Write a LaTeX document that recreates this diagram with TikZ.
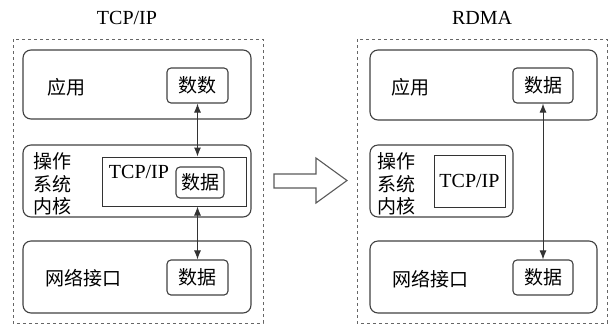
\documentclass[tikz,border=0pt]{standalone}
\usepackage{fontspec}
\setmainfont{Liberation Serif}
\newfontfamily\cjk{Noto Sans CJK SC}
\usepackage{tikz}
\usetikzlibrary{arrows.meta}

\tikzset{
    layer/.style={draw=black!75, line width=1.1pt, rounded corners=8pt, minimum width=228pt},
    databox/.style={draw=black!75, line width=1.1pt, rounded corners=4pt, minimum width=61pt, minimum height=35pt, inner sep=0pt, font=\fontsize{19}{22.5}\selectfont\cjk},
    stack/.style={draw=black!80, line width=1pt, inner sep=0pt},
    lbl/.style={font=\fontsize{19}{22.5}\selectfont\cjk, inner sep=0pt},
    frame/.style={draw=black!60, dashed, line width=0.7pt},
    link/.style={{Latex[length=9pt,width=7pt]}-{Latex[length=9pt,width=7pt]}, line width=1pt, black!80},
}

\begin{document}
\begin{tikzpicture}[x=1pt, y=-1pt, font=\fontsize{20}{23}\selectfont]
    \useasboundingbox (0,0) rectangle (609,325);

    % dashed frames and titles
    \draw[frame] (13,39) rectangle (263,323);
    \draw[frame] (357,39) rectangle (607,323);
    \node (titleL) at (127,18) {TCP/IP};
    \node (titleR) at (482,18) {RDMA};

    % TCP/IP side
    \node[layer, minimum height=69pt] (appL) at (137,84.5) {};
    \node[lbl] (appLtxt) at (66,87) {应用};
    \node[databox] (dataA) at (197.5,85.5) {数数};

    \node[layer, minimum height=72pt] (osL) at (137,181) {};
    \node[lbl, align=left] (osLtxt) at (52,184) {操作\\系统\\内核};
    \node[stack, minimum width=144pt, minimum height=49pt] (tcpL) at (174,181.5) {};
    \node[inner sep=0pt] (tcpLtxt) at (139,172) {TCP/IP};
    \node[databox, minimum width=48pt, minimum height=31pt] (dataB) at (200,182.5) {数据};

    \node[layer, minimum height=72pt] (netL) at (137,277) {};
    \node[lbl] (netLtxt) at (83,278) {网络接口};
    \node[databox] (dataC) at (197.5,277.5) {数据};

    \draw[link] (dataA.south) -- (dataA.south |- tcpL.north);
    \draw[link] (dataC.north |- tcpL.south) -- (dataC.north);

    % hollow arrow
    \draw[black!65, line width=1.1pt, line join=miter] (274,174) -- (316,174) -- (316,158) -- (347,180.5) -- (316,203) -- (316,188) -- (274,188) -- cycle;

    % RDMA side
    \node[layer, minimum width=227pt, minimum height=70pt] (appR) at (483.5,85) {};
    \node[lbl] (appRtxt) at (410,87) {应用};
    \node[databox, minimum width=60pt] (dataD) at (543,85.5) {数据};

    \node[layer, minimum width=143pt, minimum height=72pt] (osR) at (441.5,181) {};
    \node[lbl, align=left] (osRtxt) at (396,184) {操作\\系统\\内核};
    \node[stack, minimum width=71pt, minimum height=52pt] (tcpR) at (469.5,181) {TCP/IP};

    \node[layer, minimum width=227pt, minimum height=72pt] (netR) at (483.5,277) {};
    \node[lbl] (netRtxt) at (430,279) {网络接口};
    \node[databox, minimum width=60pt] (dataE) at (543,277.5) {数据};

    \draw[link] (dataD.south) -- (dataE.north);

\end{tikzpicture}
\end{document}
